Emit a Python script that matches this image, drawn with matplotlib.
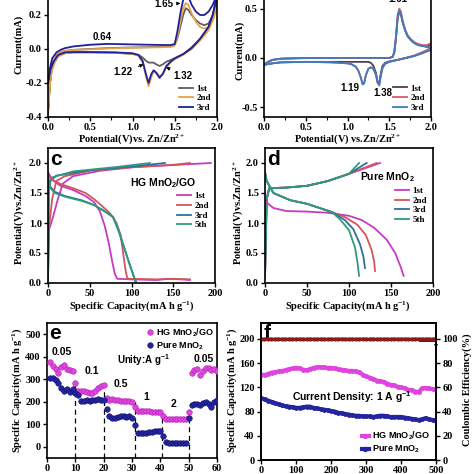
import matplotlib
matplotlib.use("Agg")
import matplotlib.pyplot as plt
from matplotlib.ticker import MultipleLocator, AutoMinorLocator, FormatStrFormatter

plt.rcParams['font.family'] = ['Liberation Serif', 'DejaVu Serif']
plt.rcParams['font.weight'] = 'bold'
plt.rcParams['axes.unicode_minus'] = False
plt.rcParams['mathtext.fontset'] = 'custom'
plt.rcParams['mathtext.rm'] = 'Liberation Serif:bold'
plt.rcParams['mathtext.bf'] = 'Liberation Serif:bold'
plt.rcParams['mathtext.it'] = 'Liberation Serif:bold:italic'
plt.rcParams['mathtext.sf'] = 'Liberation Sans'

SANS = ['Liberation Sans', 'DejaVu Sans']

# ---------------- panel a : CV of HG MnO2/GO ----------------
a_V_up = [0.0, 0.02, 0.05, 0.1, 0.15, 0.2, 0.3, 0.5, 0.7, 0.9, 1.1, 1.3, 1.45, 1.5, 1.53, 1.57, 1.6, 1.63, 1.66, 1.7, 1.75, 1.8, 1.85, 1.9, 1.95, 2.0]
a_V_dn = [2.0, 1.95, 1.9, 1.8, 1.7, 1.6, 1.5, 1.45, 1.4, 1.36, 1.32, 1.28, 1.25, 1.22, 1.19, 1.16, 1.12, 1.07, 1.0, 0.8, 0.5, 0.3, 0.2, 0.12, 0.07, 0.03, 0.0]
a1_I_up = [-0.38, -0.22, -0.1, -0.04, -0.02, -0.012, -0.005, 0.0, 0.005, 0.008, 0.01, 0.012, 0.015, 0.025, 0.06, 0.14, 0.2, 0.24, 0.23, 0.2, 0.17, 0.15, 0.14, 0.15, 0.2, 0.3]
a1_I_dn = [0.3, 0.2, 0.13, 0.06, 0.01, -0.03, -0.055, -0.065, -0.075, -0.09, -0.1, -0.09, -0.08, -0.08, -0.08, -0.07, -0.05, -0.035, -0.03, -0.022, -0.02, -0.02, -0.025, -0.04, -0.08, -0.15, -0.38]
a2_I_up = [-0.36, -0.2, -0.09, -0.035, -0.018, -0.01, -0.006, -0.002, 0.003, 0.006, 0.008, 0.01, 0.012, 0.02, 0.07, 0.17, 0.24, 0.27, 0.26, 0.21, 0.16, 0.13, 0.12, 0.13, 0.17, 0.25]
a2_I_dn = [0.25, 0.17, 0.11, 0.05, 0.0, -0.035, -0.06, -0.08, -0.11, -0.15, -0.16, -0.135, -0.13, -0.17, -0.22, -0.16, -0.08, -0.04, -0.028, -0.022, -0.02, -0.02, -0.025, -0.045, -0.09, -0.16, -0.36]
a3_I_up = [-0.2, -0.12, -0.055, -0.02, -0.005, 0.005, 0.015, 0.025, 0.03, 0.028, 0.026, 0.024, 0.023, 0.03, 0.1, 0.22, 0.29, 0.32, 0.31, 0.26, 0.22, 0.2, 0.2, 0.22, 0.26, 0.32]
a3_I_dn = [0.32, 0.2, 0.13, 0.06, 0.005, -0.03, -0.055, -0.075, -0.1, -0.145, -0.17, -0.14, -0.125, -0.15, -0.2, -0.15, -0.07, -0.035, -0.025, -0.02, -0.018, -0.018, -0.02, -0.035, -0.07, -0.12, -0.2]

# ---------------- panel b : CV of pure MnO2 ----------------
b_V_up = [0.0, 0.05, 0.1, 0.2, 0.4, 0.7, 1.0, 1.3, 1.5, 1.54, 1.56, 1.58, 1.6, 1.62, 1.64, 1.66, 1.69, 1.72, 1.76, 1.8, 1.85, 1.9, 1.95, 2.0]
b_V_dn = [2.0, 1.9, 1.8, 1.7, 1.6, 1.5, 1.45, 1.42, 1.4, 1.38, 1.36, 1.34, 1.31, 1.28, 1.25, 1.22, 1.2, 1.18, 1.16, 1.13, 1.1, 1.05, 1.0, 0.8, 0.5, 0.2, 0.1, 0.0]
b1_I_up = [-0.07, -0.04, -0.02, -0.008, -0.003, 0.0, 0.0, 0.0, 0.0, 0.01, 0.05, 0.19, 0.4, 0.47, 0.44, 0.36, 0.28, 0.22, 0.18, 0.15, 0.13, 0.12, 0.12, 0.13]
b1_I_dn = [0.09, 0.05, 0.02, 0.0, -0.02, -0.035, -0.05, -0.08, -0.15, -0.26, -0.24, -0.15, -0.08, -0.05, -0.04, -0.04, -0.04, -0.04, -0.04, -0.04, -0.04, -0.04, -0.04, -0.04, -0.04, -0.045, -0.055, -0.07]
b2_I_up = [-0.07, -0.04, -0.02, -0.008, -0.003, 0.0, 0.0, 0.0, 0.0, 0.01, 0.06, 0.22, 0.44, 0.5, 0.47, 0.38, 0.29, 0.23, 0.19, 0.16, 0.14, 0.13, 0.13, 0.15]
b2_I_dn = [0.1, 0.06, 0.025, 0.0, -0.02, -0.04, -0.06, -0.1, -0.17, -0.27, -0.25, -0.17, -0.11, -0.095, -0.11, -0.17, -0.25, -0.26, -0.2, -0.13, -0.09, -0.065, -0.055, -0.045, -0.04, -0.045, -0.055, -0.07]
b3_I_up = [-0.07, -0.04, -0.02, -0.008, -0.003, 0.0, 0.0, 0.0, 0.0, 0.01, 0.06, 0.2, 0.4, 0.48, 0.45, 0.37, 0.28, 0.22, 0.18, 0.15, 0.13, 0.12, 0.11, 0.1]
b3_I_dn = [0.08, 0.05, 0.02, 0.0, -0.02, -0.04, -0.06, -0.1, -0.18, -0.28, -0.25, -0.17, -0.11, -0.095, -0.11, -0.18, -0.26, -0.27, -0.2, -0.13, -0.09, -0.065, -0.055, -0.045, -0.04, -0.045, -0.055, -0.07]

# ---------------- panel c : GCD HG MnO2/GO ----------------
c1_dis_cap = [0, 5, 15, 30, 45, 55, 62, 68, 73, 77, 80, 83, 100, 130, 145, 160, 170]
c1_dis_V = [1.85, 1.72, 1.62, 1.55, 1.45, 1.35, 1.2, 0.95, 0.65, 0.35, 0.15, 0.07, 0.06, 0.05, 0.07, 0.06, 0.05]
c2_dis_cap = [0, 5, 15, 30, 45, 55, 65, 75, 82, 87, 90, 93, 95, 97, 130, 150, 170]
c2_dis_V = [1.8, 1.72, 1.65, 1.58, 1.5, 1.4, 1.28, 1.15, 1.0, 0.8, 0.5, 0.2, 0.08, 0.07, 0.06, 0.07, 0.06]
c3_dis_cap = [0, 3, 8, 20, 40, 55, 65, 78, 85, 92, 98, 103, 106]
c3_dis_V = [1.78, 1.6, 1.52, 1.45, 1.38, 1.3, 1.22, 1.1, 0.85, 0.55, 0.3, 0.1, 0.0]
c5_dis_cap = [0, 3, 8, 20, 40, 55, 65, 78, 85, 92, 98, 103, 105]
c5_dis_V = [1.75, 1.58, 1.5, 1.44, 1.37, 1.3, 1.22, 1.1, 0.86, 0.56, 0.3, 0.1, 0.0]
c1_chg_cap = [0, 1, 6, 12, 18, 30, 62, 102, 142, 195]
c1_chg_V = [0.05, 0.88, 1.1, 1.41, 1.66, 1.78, 1.87, 1.93, 1.96, 2.0]
c2_chg_cap = [0, 1, 5, 10, 20, 50, 100, 150, 170]
c2_chg_V = [0.05, 0.9, 1.4, 1.7, 1.78, 1.87, 1.93, 1.97, 2.0]
c3_chg_cap = [0, 1, 3, 10, 50, 100, 140]
c3_chg_V = [0.05, 1.6, 1.7, 1.79, 1.88, 1.94, 2.0]
c5_chg_cap = [0, 1, 5, 30, 80, 122]
c5_chg_V = [0.05, 1.65, 1.76, 1.86, 1.93, 2.0]

# ---------------- panel d : GCD pure MnO2 ----------------
d_chg_cap = [0, 2, 5, 25, 50, 75, 100]
d_chg_V = [0.1, 1.4, 1.58, 1.59, 1.62, 1.7, 1.82]
d_chg_end_cap = [137, 133, 121, 112]
d1_dis_cap = [0, 3, 10, 25, 50, 75, 100, 115, 130, 145, 155, 162, 165]
d1_dis_V = [1.4, 1.33, 1.25, 1.2, 1.19, 1.17, 1.12, 1.05, 0.92, 0.72, 0.5, 0.25, 0.12]
d2_dis_cap = [0, 2, 10, 30, 50, 65, 80, 95, 110, 120, 127, 130, 131]
d2_dis_V = [1.85, 1.7, 1.5, 1.38, 1.32, 1.25, 1.18, 1.1, 0.97, 0.8, 0.55, 0.35, 0.2]
d3_dis_cap = [0, 2, 10, 30, 50, 65, 80, 95, 105, 113, 117, 119]
d3_dis_V = [1.85, 1.7, 1.5, 1.38, 1.32, 1.25, 1.18, 1.05, 0.9, 0.65, 0.45, 0.25]
d5_dis_cap = [0, 2, 10, 30, 50, 65, 80, 90, 100, 107, 110, 112]
d5_dis_V = [1.85, 1.7, 1.5, 1.38, 1.32, 1.25, 1.18, 1.05, 0.88, 0.6, 0.35, 0.12]

# ---------------- panel e : rate ----------------
cycles_e = list(range(1, 61))
hg_rate = [375, 358, 345, 327, 355, 363, 347, 340, 335, 285,
           250, 250, 250, 245, 240, 240, 250, 260, 270, 276,
           215, 210, 212, 208, 206, 205, 205, 203, 203, 200,
           175, 158, 158, 157, 157, 157, 156, 156, 156, 156,
           135, 122, 122, 122, 122, 122, 122, 122, 122, 155,
           330, 340, 345, 320, 335, 350, 348, 340, 345, 335]
pure_rate = [305, 305, 298, 285, 262, 250, 255, 245, 255, 238,
             230, 205, 205, 208, 205, 210, 210, 212, 210, 210,
             168, 135, 130, 130, 133, 135, 135, 133, 135, 130,
             98, 62, 60, 62, 62, 65, 66, 68, 68, 70,
             50, 20, 16, 15, 15, 15, 15, 15, 15, 130,
             185, 190, 190, 185, 195, 200, 190, 175, 200, 210]
rate_steps = [10, 20, 31, 40.5, 50]
rate_step_tops = [290, 255, 200, 150, 155]
rate_labels = ['0.05', '0.1', '0.5', '1', '2', '0.05']

# ---------------- panel f : cycling ----------------
cycles_f = list(range(0, 501, 10))
hg_cyc = [141, 140, 142, 144, 145, 146, 147, 148, 150, 151, 152, 151, 149, 148, 150, 152, 153, 153, 153, 152,
          152, 151, 150, 149, 148, 147, 147, 146, 145, 141, 138, 136, 134, 131, 130, 129, 126, 124, 123, 121,
          120, 118, 116, 115, 113, 112, 118, 119, 118, 117, 116]
pure_cyc = [102, 100, 98, 96, 94, 92, 90, 89, 88, 87, 86, 86, 87, 88, 88, 86, 85, 84, 83, 82,
            81, 80, 78, 77, 76, 75, 74, 73, 73, 72, 72, 72, 71, 72, 73, 73, 72, 71, 71, 71,
            71, 70, 69, 68, 67, 66, 67, 69, 67, 66, 65]
ce_cyc = [99.4, 99.5, 99.6, 99.5, 99.5, 99.6, 99.5, 99.5, 99.6, 99.5, 99.5, 99.6, 99.5, 99.5, 99.6, 99.5, 99.5,
          99.6, 99.5, 99.5, 99.6, 99.5, 99.5, 99.6, 99.5, 99.5, 99.6, 99.5, 99.5, 99.6, 99.5, 99.5, 99.6, 99.5,
          99.5, 99.6, 99.5, 99.5, 99.6, 99.5, 99.5, 99.6, 99.5, 99.5, 99.6, 99.5, 99.5, 99.6, 99.5, 99.5, 99.6]

# colours
C_GRAY, C_ORG, C_NAVY = '#5f5f5f', '#e6a44a', '#20209a'
C_B1, C_B2, C_B3 = '#5a3a55', '#d25a6a', '#3d7dc0'
C_M, C_R, C_BL, C_TE = '#c43cc4', '#d2555a', '#2e6f9e', '#2f9a7c'
C_HG, C_PU, C_CE = '#e044e0', '#24249e', '#8a1b1b'

W = H = 474.0
fig = plt.figure(figsize=(4.74, 4.74), dpi=100)
fig.patch.set_facecolor('white')


def ax_at(x0, x1, ytop, ybot):
    return fig.add_axes([x0 / W, 1 - ybot / H, (x1 - x0) / W, (ybot - ytop) / H])


TFS = 7.5


def style(ax):
    for s in ax.spines.values():
        s.set_linewidth(1.2)
    ax.tick_params(direction='out', length=3, width=1, labelsize=TFS, pad=1.5)
    ax.tick_params(which='minor', direction='out', length=1.8, width=0.8)
    for lab in ax.get_xticklabels() + ax.get_yticklabels():
        lab.set_fontweight('bold')


def ftext(x, y, s, **kw):
    fig.text(x / W, 1 - y / H, s, ha='center', va='center', **kw)


leg_kw = dict(frameon=False, prop={'family': 'Liberation Serif', 'weight': 'bold', 'size': 6.5},
              handlelength=1.5, handletextpad=0.4, labelspacing=0.15, borderpad=0.2)

# ---- a
ax = ax_at(48, 217, -19, 117)
ax.plot(a_V_up + a_V_dn, a1_I_up + a1_I_dn, color=C_GRAY, lw=1.3, label='1st')
ax.plot(a_V_up + a_V_dn, a2_I_up + a2_I_dn, color=C_ORG, lw=1.3, label='2nd')
ax.plot(a_V_up + a_V_dn, a3_I_up + a3_I_dn, color=C_NAVY, lw=1.3, label='3rd')
ax.set_xlim(0, 2.0)
ax.set_ylim(-0.4, 0.4)
ax.xaxis.set_major_locator(MultipleLocator(0.5))
ax.xaxis.set_minor_locator(AutoMinorLocator(2))
ax.set_yticks([-0.4, -0.2, 0.0, 0.2])
ax.yaxis.set_major_formatter(FormatStrFormatter('%.1f'))
ax.xaxis.set_major_formatter(FormatStrFormatter('%.1f'))
style(ax)
ax.legend(loc='lower right', bbox_to_anchor=(1.0, -0.01), **leg_kw)
akw = dict(arrowprops=dict(arrowstyle='-|>', color='black', lw=0.6, mutation_scale=5), fontsize=7, family=SANS,
           ha='center', va='center')
ax.text(0.64, 0.07, '0.64', fontsize=7, family=SANS, ha='center', va='center')
ax.annotate('1.65', xy=(1.6, 0.27), xytext=(1.37, 0.262), **akw)
ax.annotate('1.22', xy=(1.16, -0.085), xytext=(0.89, -0.137), **akw)
ax.annotate('1.32', xy=(1.37, -0.1), xytext=(1.6, -0.158), **akw)
ftext(132, 139, r'Potential(V)vs. Zn/Zn$^{2+}$', fontsize=TFS)
ftext(19, 44, 'Current(mA)', fontsize=TFS, rotation=90)

# ---- b
ax = ax_at(264, 431, -11, 117)
ax.plot(b_V_up + b_V_dn, b1_I_up + b1_I_dn, color=C_B1, lw=1.3, label='1st')
ax.plot(b_V_up + b_V_dn, b2_I_up + b2_I_dn, color=C_B2, lw=1.3, label='2nd')
ax.plot(b_V_up + b_V_dn, b3_I_up + b3_I_dn, color=C_B3, lw=1.3, label='3rd')
ax.set_xlim(0, 2.0)
ax.set_ylim(-0.6, 0.7)
ax.xaxis.set_major_locator(MultipleLocator(0.5))
ax.xaxis.set_minor_locator(AutoMinorLocator(2))
ax.set_yticks([-0.5, 0.0, 0.5])
ax.yaxis.set_major_formatter(FormatStrFormatter('%.1f'))
ax.xaxis.set_major_formatter(FormatStrFormatter('%.1f'))
style(ax)
ax.legend(loc='lower right', bbox_to_anchor=(1.0, -0.01), **leg_kw)
ax.text(1.6, 0.6, '1.61', fontsize=7, family=SANS, ha='center', va='center')
ax.text(1.03, -0.31, '1.19', fontsize=7, family=SANS, ha='center', va='center')
ax.text(1.42, -0.355, '1.38', fontsize=7, family=SANS, ha='center', va='center')
ftext(348, 139, r'Potential(V) vs.Zn/Zn$^{2+}$', fontsize=TFS)
ftext(240, 50, 'Current(mA)', fontsize=TFS, rotation=90)

# ---- c
ax = ax_at(48, 215, 148, 283)
for cap, v, col in [(c1_chg_cap, c1_chg_V, C_M), (c2_chg_cap, c2_chg_V, C_R),
                    (c3_chg_cap, c3_chg_V, C_BL), (c5_chg_cap, c5_chg_V, C_TE)]:
    ax.plot(cap, v, color=col, lw=1.3)
ax.plot(c1_dis_cap, c1_dis_V, color=C_M, lw=1.3, label='1st')
ax.plot(c2_dis_cap, c2_dis_V, color=C_R, lw=1.3, label='2nd')
ax.plot(c3_dis_cap, c3_dis_V, color=C_BL, lw=1.3, label='3rd')
ax.plot(c5_dis_cap, c5_dis_V, color=C_TE, lw=1.3, label='5th')
ax.set_xlim(0, 200)
ax.set_ylim(0, 2.25)
ax.xaxis.set_major_locator(MultipleLocator(50))
ax.yaxis.set_major_locator(MultipleLocator(0.5))
ax.yaxis.set_major_formatter(FormatStrFormatter('%.1f'))
style(ax)
ax.legend(loc='upper right', bbox_to_anchor=(1.0, 0.72), **leg_kw)
ax.text(0.69, 0.74, r'HG MnO$_\mathsf{2}$/GO', transform=ax.transAxes, fontsize=7.5, family=SANS,
        ha='center', va='center')
ax.text(0.015, 0.985, 'c', transform=ax.transAxes, fontsize=15, family=SANS, weight='bold', ha='left', va='top')
ftext(132, 306, r'Specific Capacity(mA h g$^{-1}$)', fontsize=TFS)
ftext(19, 213, r'Potential(V)vs.Zn/Zn$^{2+}$', fontsize=TFS, rotation=90)

# ---- d
ax = ax_at(265, 433, 148, 283)
for endcap, col in zip(d_chg_end_cap, [C_M, C_R, C_BL, C_TE]):
    ax.plot(d_chg_cap + [endcap], d_chg_V + [2.0], color=col, lw=1.3)
ax.plot(d1_dis_cap, d1_dis_V, color=C_M, lw=1.3, label='1st')
ax.plot(d2_dis_cap, d2_dis_V, color=C_R, lw=1.3, label='2nd')
ax.plot(d3_dis_cap, d3_dis_V, color=C_BL, lw=1.3, label='3rd')
ax.plot(d5_dis_cap, d5_dis_V, color=C_TE, lw=1.3, label='5th')
ax.set_xlim(0, 200)
ax.set_ylim(0, 2.25)
ax.xaxis.set_major_locator(MultipleLocator(50))
ax.yaxis.set_major_locator(MultipleLocator(0.5))
ax.yaxis.set_major_formatter(FormatStrFormatter('%.1f'))
style(ax)
ax.legend(loc='upper right', bbox_to_anchor=(1.0, 0.76), **leg_kw)
ax.text(0.73, 0.78, r'Pure MnO$_\mathsf{2}$', transform=ax.transAxes, fontsize=7.5, family=SANS,
        ha='center', va='center')
ax.text(0.015, 0.985, 'd', transform=ax.transAxes, fontsize=15, family=SANS, weight='bold', ha='left', va='top')
ftext(348, 306, r'Specific Capacity(mA h g$^{-1}$)', fontsize=TFS)
ftext(238, 213, r'Potential(V)vs.Zn/Zn$^{2+}$', fontsize=TFS, rotation=90)

# ---- e
ax = ax_at(47, 217, 323, 458)
for xs, top in zip(rate_steps, rate_step_tops):
    ax.plot([xs, xs], [-50, top], color='black', lw=0.9, ls=(0, (4, 3)))
ax.plot(cycles_e, hg_rate, 'o', color=C_HG, mec='#b020b0', mew=0.4, ms=4, label=r'HG MnO$_\mathsf{2}$/GO', zorder=3)
ax.plot(cycles_e, pure_rate, 'o', color=C_PU, mec='#10106a', mew=0.4, ms=4, label=r'Pure MnO$_\mathsf{2}$', zorder=3)
ax.set_xlim(0, 60)
ax.set_ylim(-50, 550)
ax.xaxis.set_major_locator(MultipleLocator(10))
ax.set_yticks([0, 100, 200, 300, 400, 500])
style(ax)
ax.legend(loc='upper right', bbox_to_anchor=(1.02, 1.02), frameon=False,
          prop={'family': 'Liberation Sans', 'size': 6.5}, handlelength=0.8, handletextpad=0.3,
          labelspacing=0.2, borderpad=0.2)
for (xx, yy), s in zip([(5.3, 421), (15.9, 337), (25.9, 281), (35, 219), (44.7, 192), (55.3, 388)], rate_labels):
    ax.text(xx, yy, s, fontsize=7.5, family=SANS, ha='center', va='center')
ax.text(34, 385, r'Unity:A g$^\mathsf{-1}$', fontsize=7, family=SANS, ha='center', va='center')
ax.text(0.015, 0.99, 'e', transform=ax.transAxes, fontsize=15, family=SANS, weight='bold', ha='left', va='top')
ftext(17, 390, r'Specific Capacity(mA h g$^{-1}$)', fontsize=TFS, rotation=90)

# ---- f
ax = ax_at(261, 436, 323, 460)
ax2 = ax.twinx()
ax.plot(cycles_f, hg_cyc, 'o-', color=C_HG, ms=3.5, lw=3, mew=0, label=r'HG MnO$_\mathsf{2}$/GO', zorder=3)
ax.plot(cycles_f, pure_cyc, 'o-', color=C_PU, ms=3.5, lw=3, mew=0, label=r'Pure MnO$_\mathsf{2}$', zorder=3)
ax2.plot(cycles_f, ce_cyc, 'o-', color=C_CE, ms=3, lw=2.5, mew=0)
ax.set_xlim(0, 500)
ax.set_ylim(0, 226)
ax2.set_ylim(0, 113)
ax.xaxis.set_major_locator(MultipleLocator(100))
ax.set_yticks([0, 40, 80, 120, 160, 200])
ax2.set_yticks([0, 20, 40, 60, 80, 100])
style(ax)
style(ax2)
ax.annotate('', xy=(500, 180), xytext=(443, 197),
            arrowprops=dict(arrowstyle='-|>', color='black', lw=0.6, mutation_scale=5,
                            connectionstyle='angle,angleA=0,angleB=90,rad=0'))
ax.legend(loc='lower right', bbox_to_anchor=(1.0, -0.01), frameon=False,
          prop={'family': 'Liberation Sans', 'size': 6.5}, handlelength=0.8, handletextpad=0.3,
          labelspacing=0.2, borderpad=0.2, markerscale=1.1)
ax.text(260, 104, r'Current Density: 1 A g$^\mathsf{-1}$', fontsize=7.5, family=SANS, ha='center', va='center')
ax.text(0.015, 0.99, 'f', transform=ax.transAxes, fontsize=15, family=SANS, weight='bold', ha='left', va='top')
ftext(232, 390, r'Specific Capacity(mA h g$^{-1}$)', fontsize=TFS, rotation=90)
ftext(467, 390, 'Coulombic Efficiency(%)', fontsize=TFS, rotation=90)

fig.savefig('out.png', dpi=100, facecolor='white')
